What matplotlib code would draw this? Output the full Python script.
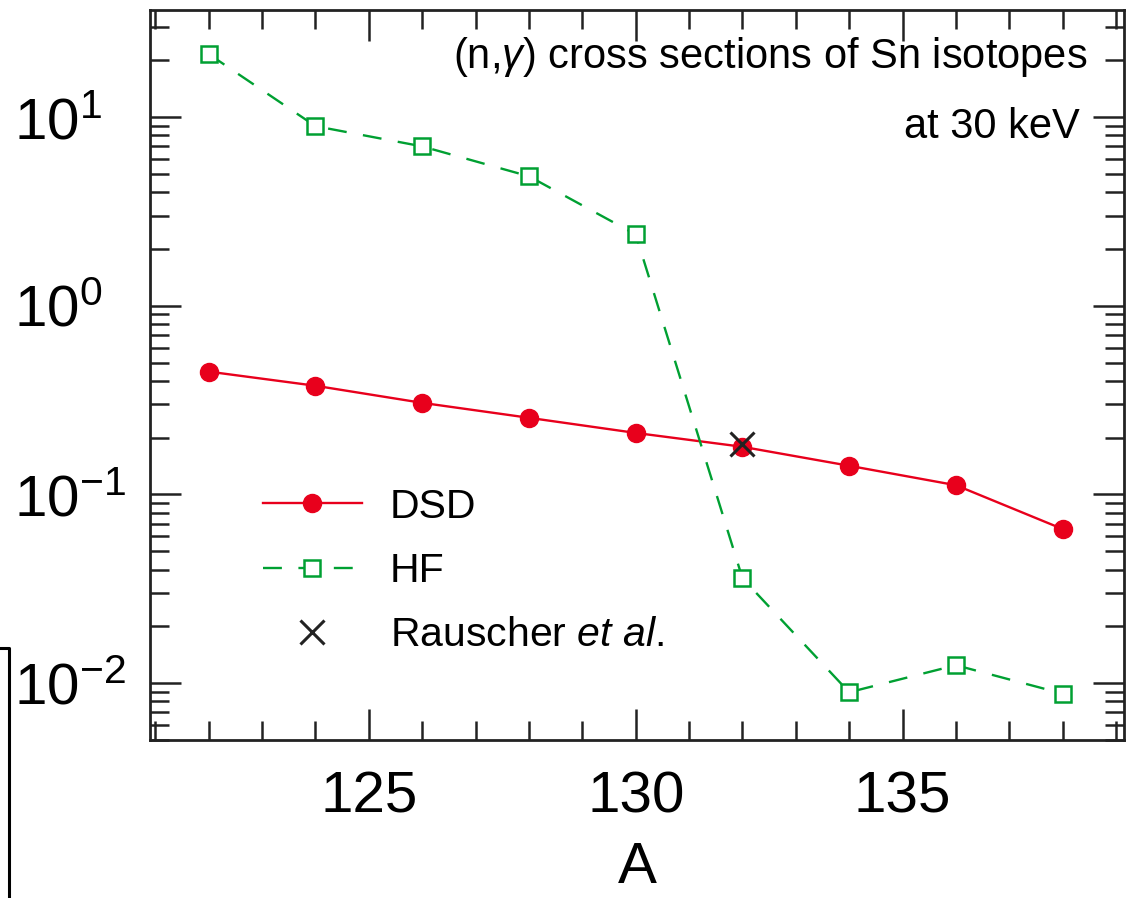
import numpy as np
import matplotlib
matplotlib.use('Agg')
import matplotlib.pyplot as plt
from matplotlib.ticker import MultipleLocator, LogLocator, NullFormatter
from matplotlib.lines import Line2D

plt.rcParams['font.family'] = ['Liberation Sans', 'DejaVu Sans']
plt.rcParams['mathtext.fontset'] = 'custom'
plt.rcParams['mathtext.rm'] = 'Liberation Sans'
plt.rcParams['mathtext.it'] = 'Liberation Sans:italic'
plt.rcParams['mathtext.sf'] = 'Liberation Sans'

# mass number A of the Sn isotopes
mass_A = [122, 124, 126, 128, 130, 132, 134, 136, 138]
# (n,gamma) cross sections
dsd = [0.448, 0.377, 0.306, 0.255, 0.212, 0.179, 0.142, 0.112, 0.0656]
hf = [21.6, 8.96, 7.0, 4.86, 2.39, 0.036, 0.00895, 0.01245, 0.0088]
rauscher_A = [132]
rauscher = [0.186]

red = '#e8001c'
green = '#00a032'

fig = plt.figure(figsize=(11.34, 8.98), dpi=100)
ax = fig.add_axes([0.1323, 0.176, 0.9912 - 0.1323, 0.9889 - 0.176])

ax.plot(mass_A, dsd, '-o', color=red, lw=1.7, ms=13, label='DSD')
ax.plot(mass_A, hf, '--s', color=green, lw=1.7, ms=12, mfc='white',
        mew=1.8, dashes=(8, 7), label='HF')
ax.plot(rauscher_A, rauscher, 'x', color='#222222', ms=17, mew=2.2,
        label=r'Rauscher $\it{et\ al.}$')

ax.set_yscale('log')
ax.set_xlim(120.9, 139.15)
ax.set_ylim(5e-3, 37)
ax.xaxis.set_major_locator(MultipleLocator(5))
ax.xaxis.set_minor_locator(MultipleLocator(1))
ax.yaxis.set_major_locator(LogLocator(base=10, numticks=10))
ax.yaxis.set_minor_locator(LogLocator(base=10, subs=np.arange(2, 10), numticks=20))
ax.yaxis.set_minor_formatter(NullFormatter())

ax.tick_params(which='both', direction='in', top=True, right=True,
               width=1.8, color='#222222')
ax.tick_params(which='major', length=22, labelsize=42)
ax.tick_params(which='minor', length=14)
# y labels in the original are flush left at the figure edge
ax.tick_params(axis='y', which='major', pad=98)
ax.tick_params(axis='x', which='major', pad=22)
for lab in ax.get_yticklabels():
    lab.set_horizontalalignment('left')
for s in ax.spines.values():
    s.set_linewidth(2)
    s.set_color('#222222')

ax.set_xlabel('A', fontsize=42, labelpad=12)

ax.text(0.962, 0.9356, r'(n,$\gamma$) cross sections of Sn isotopes',
        transform=ax.transAxes, ha='right', va='center', fontsize=30)
ax.text(0.955, 0.8397, 'at 30 keV', transform=ax.transAxes,
        ha='right', va='center', fontsize=30)

ax.legend(loc='upper left', bbox_to_anchor=(0.0995, 0.368), frameon=False,
          fontsize=29.5, handlelength=2.4, handletextpad=0.68,
          labelspacing=0.64, borderaxespad=0)

# stray frame edge at the lower left of the original
fig.add_artist(Line2D([0, 9 / 1134, 9 / 1134], [250 / 898, 250 / 898, 0],
                      transform=fig.transFigure, color='black', lw=2.2))

fig.savefig('out.png', dpi=100)
